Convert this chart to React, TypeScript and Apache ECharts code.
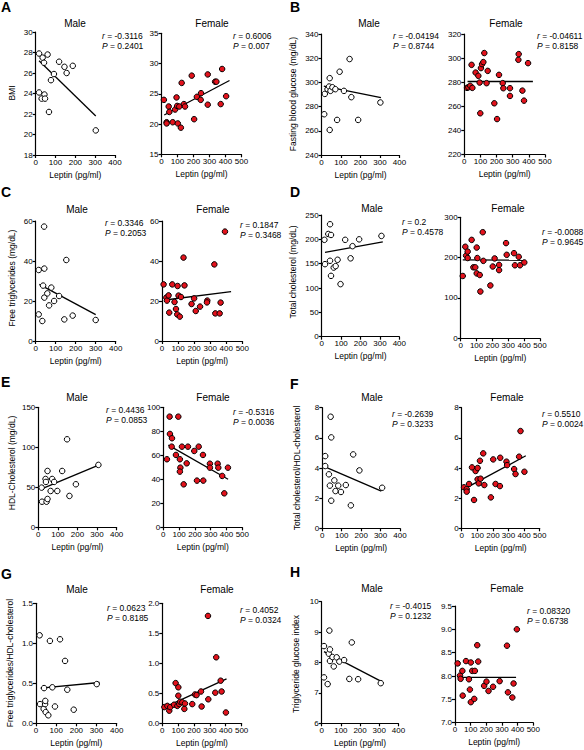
import React, { useEffect, useRef } from "react";
import * as echarts from "echarts";

const FONT = '"Liberation Sans", Arial, Helvetica, sans-serif';
const RED = "#e3121c";
const X_NAME = "Leptin (pg/ml)";

// ---------- data: [leptin, value] ----------
const bmiMale = [[17,27.9],[60,27.8],[35,27.5],[42,27.0],[118,27.1],[145,26.6],[156,26.0],[187,26.7],[92,25.9],[77,25.3],[17,24.1],[44,23.9],[30,23.5],[47,23.5],[67,22.2],[303,20.4]];
const bmiMaleFit = [[17,27.2],[303,21.8]];
const bmiFemale = [[15,24.0],[32,20.3],[32,20.1],[45,22.9],[49,22.0],[70,20.3],[85,22.4],[94,24.4],[98,23.0],[102,20.1],[111,22.9],[121,19.4],[126,26.8],[140,23.3],[147,22.9],[189,28.0],[204,20.8],[221,24.5],[247,25.1],[245,24.0],[289,28.2],[289,23.2],[335,27.0],[343,27.0],[370,23.3],[379,29.1],[404,24.6]];
const bmiFemaleFit = [[17,21.5],[425,27.2]];

const glucoseMale = [[14,273.7],[17,290.5],[31,294.4],[39,296.6],[42,303.5],[46,293],[42,260.7],[56,296],[71,294.4],[80,269],[93,308.8],[115,293],[144,319.3],[153,287.8],[188,269],[302,283.4]];
const glucoseMaleFit = [[12,297],[305,287.4]];
const glucoseFemale = [[17,275.3],[25,275.8],[37,277],[45,294.4],[50,275.3],[70,288],[87,285.3],[95,279.7],[103,291.7],[99,254.2],[110,295],[118,296.7],[124,304.2],[138,279.2],[145,289.4],[186,262.5],[203,249.4],[215,286.1],[238,279.2],[242,275],[283,275],[283,268.6],[335,298.6],[337,303.3],[360,273],[370,264.7],[395,295.8]];
const glucoseFemaleFit = [[20,280.6],[425,280.6]];

const tgMale = [[15,35.5],[15,13.3],[33,10],[37,27.7],[42,57.2],[43,36.2],[43,21.7],[58,23.8],[67,17.8],[78,26.7],[92,20],[117,22.5],[143,10.8],[153,40.5],[185,12.7],[300,10.5]];
const tgMaleFit = [[18,28.3],[300,13.2]];
const tgFemale = [[10,28.3],[27,21.7],[31,20.2],[41,22.8],[45,14.2],[64,28.3],[78,19.5],[87,16],[95,13.3],[97,27.5],[103,22.7],[111,12.2],[118,22],[134,41.7],[140,27.8],[184,18.5],[200,21.3],[210,15],[237,17.2],[282,20.2],[280,19.3],[326,38.3],[332,13.8],[359,13.8],[365,19.2],[392,54.7]];
const tgFemaleFit = [[19,20.5],[430,24.7]];

const tcMale = [[14,199],[17,149],[34,211],[43,231],[43,156],[48,209],[48,125],[62,142],[72,145],[82,158],[97,108],[121,199],[149,161],[159,186],[193,200],[308,207]];
const tcMaleFit = [[17,173],[315,195]];
const tcFemale = [[13,154.5],[29,227],[34,205],[44,215],[44,199],[69,244],[80,176],[92,176],[101,225],[101,161],[105,199],[120,157],[124,116],[139,263],[143,192],[187,131],[202,178],[214,198],[242,182],[242,169],[286,236],[290,207],[336,211],[342,181],[366,202],[374,181],[401,188]];
const tcFemaleFit = [[13,194.5],[405,193.5]];

const hdlMale = [[17,49.6],[19,32],[37,60.4],[39,56.7],[42,32],[47,35.4],[47,70.4],[63,45.4],[71,60.4],[81,56.7],[97,45.4],[122,70.4],[147,110],[159,39.2],[192,53.8],[307,78]];
const hdlMaleFit = [[17,48],[302,77]];
const hdlFemale = [[23,56.7],[40,92.2],[42,77.8],[55,74.2],[53,67.2],[80,60.3],[95,92.2],[105,56.7],[108,49.7],[105,46.4],[118,67.2],[129,35.8],[148,53.3],[156,67.2],[196,63.6],[213,38.9],[224,67.2],[251,60.3],[253,38.9],[295,53],[295,49.7],[344,53],[348,49.7],[373,42.8],[386,28.3],[409,49.7]];
const hdlFemaleFit = [[32,68.5],[410,40]];

const tcHdlMale = [[15,4.79],[15,4.13],[34,3.58],[39,2.83],[43,7.4],[46,6.03],[46,1.83],[62,3.18],[68,2.47],[82,2.83],[96,2.41],[121,2.87],[147,1.52],[159,4.9],[191,3.84],[308,2.69]];
const tcHdlMaleFit = [[14,4.08],[304,2.47]];
const tcHdlFemale = [[15,2.72],[32,2.6],[32,2.43],[47,2.94],[66,4.04],[79,1.88],[89,3.8],[102,4],[102,3.25],[109,2.98],[117,4.48],[121,3.29],[138,4.97],[145,2.87],[187,2.05],[202,4.57],[217,2.94],[245,2.8],[247,4.68],[287,4.42],[291,4.19],[336,3.93],[345,3.6],[368,4.75],[377,6.45],[402,3.75]];
const tcHdlFemaleFit = [[11,2.58],[411,4.81]];

const tgHdlMale = [[18,1.10],[20,0.24],[40,0.44],[38,0.18],[45,0.24],[46,0.28],[48,0.14],[61,0.1],[69,1.03],[81,0.45],[94,0.21],[119,1.05],[144,0.78],[155,0.42],[187,0.17],[301,0.49]];
const tgHdlMaleFit = [[23,0.44],[315,0.51]];
const tgHdlFemale = [[13,0.27],[32,0.29],[44,0.21],[50,0.27],[74,0.31],[84,0.67],[95,0.29],[101,0.6],[101,0.46],[107,0.32],[113,0.36],[126,0.35],[139,0.24],[143,0.33],[189,0.32],[206,0.48],[216,0.47],[244,0.53],[248,0.28],[288,1.79],[290,0.4],[334,0.51],[340,1.1],[368,0.71],[374,0.53],[401,0.18]];
const tgHdlFemaleFit = [[10,0.26],[405,0.74]];

const tygMale = [[12,8.54],[12,7.51],[31,7.29],[37,8.29],[40,9.05],[43,8.43],[43,8.05],[56,8.18],[63,7.87],[78,8.17],[92,8.03],[117,8.08],[144,7.46],[157,8.66],[190,7.45],[308,7.32]];
const tygMaleFit = [[12,8.36],[313,7.37]];
const tygFemale = [[17,8.27],[32,8.01],[36,7.94],[47,8.11],[49,7.58],[70,8.32],[89,7.93],[95,7.71],[101,8.29],[101,7.44],[110,8.11],[123,7.51],[127,8.11],[142,8.66],[148,8.31],[186,7.79],[201,7.88],[214,7.68],[243,7.77],[285,7.89],[332,8.65],[338,7.65],[366,7.54],[374,7.84],[395,9.0]];
const tygFemaleFit = [[17,7.97],[390,7.97]];

// ---------- statistics text ----------
const statsR = ["-0.3116","0.6006","-0.04194","-0.04611","0.3346","0.1847","0.2","-0.0088","0.4436","-0.5316","-0.2639","0.5510","0.0623","0.4052","-0.4015","0.08320"];
const statsP = ["0.2401","0.007","0.8744","0.8158","0.2053","0.3468","0.4578","0.9645","0.0853","0.0036","0.3233","0.0024","0.8185","0.0324","0.1232","0.6738"];

// ---------- panel definitions (layout) ----------
type Side = { pts: number[][]; fit: number[][]; female: boolean; box: number[]; xMax: number; y: number[]; dec: number; title: number[]; stat: number[] };

const sides: Side[] = [
  { pts: bmiMale, fit: bmiMaleFit, female: false, box: [35.7, 32, 79.3, 123], xMax: 400, y: [18, 30, 2], dec: 0, title: [75, 23], stat: [102, 36] },
  { pts: bmiFemale, fit: bmiFemaleFit, female: true, box: [161.5, 33.3, 80, 121], xMax: 500, y: [15, 35, 5], dec: 0, title: [212, 23], stat: [233, 36] },
  { pts: glucoseMale, fit: glucoseMaleFit, female: false, box: [321.5, 34, 78, 121], xMax: 400, y: [240, 340, 20], dec: 0, title: [369, 23], stat: [393, 36] },
  { pts: glucoseFemale, fit: glucoseFemaleFit, female: true, box: [464.3, 34, 80.7, 120.5], xMax: 500, y: [220, 320, 20], dec: 0, title: [506, 23], stat: [537, 36] },
  { pts: tgMale, fit: tgMaleFit, female: false, box: [35.7, 221, 80, 120], xMax: 400, y: [0, 60, 20], dec: 0, title: [77, 209], stat: [105, 223] },
  { pts: tgFemale, fit: tgFemaleFit, female: true, box: [162, 221, 80.3, 120], xMax: 500, y: [0, 60, 20], dec: 0, title: [213, 209], stat: [240, 225] },
  { pts: tcMale, fit: tcMaleFit, female: false, box: [321.7, 215, 77.6, 121.7], xMax: 400, y: [0, 250, 50], dec: 0, title: [372, 208], stat: [402, 222] },
  { pts: tcFemale, fit: tcFemaleFit, female: true, box: [460.7, 217.3, 79.3, 121], xMax: 500, y: [0, 300, 100], dec: 0, title: [508, 208], stat: [542, 232] },
  { pts: hdlMale, fit: hdlMaleFit, female: false, box: [38.3, 407.3, 78.3, 120], xMax: 400, y: [0, 150, 50], dec: 0, title: [77, 397], stat: [106, 410] },
  { pts: hdlFemale, fit: hdlFemaleFit, female: true, box: [163.3, 407.3, 79, 120], xMax: 500, y: [0, 100, 20], dec: 0, title: [213, 397], stat: [233, 412] },
  { pts: tcHdlMale, fit: tcHdlMaleFit, female: false, box: [322.3, 407.7, 77.7, 120.6], xMax: 400, y: [0, 8, 2], dec: 0, title: [372, 397], stat: [392, 414] },
  { pts: tcHdlFemale, fit: tcHdlFemaleFit, female: true, box: [461.7, 407.7, 78, 120.6], xMax: 500, y: [0, 8, 2], dec: 0, title: [507, 397], stat: [542, 414] },
  { pts: tgHdlMale, fit: tgHdlMaleFit, female: false, box: [36, 603.3, 80.7, 120], xMax: 400, y: [0, 1.5, 0.5], dec: 1, title: [77, 589], stat: [107, 608] },
  { pts: tgHdlFemale, fit: tgHdlFemaleFit, female: true, box: [162.3, 603.3, 79.3, 120], xMax: 500, y: [0, 2.0, 0.5], dec: 1, title: [217, 589], stat: [240, 610] },
  { pts: tygMale, fit: tygMaleFit, female: false, box: [321.7, 601.7, 76.7, 121.6], xMax: 400, y: [6, 10, 1], dec: 0, title: [372, 588], stat: [390, 606] },
  { pts: tygFemale, fit: tygFemaleFit, female: true, box: [455, 606, 78.3, 116.7], xMax: 500, y: [7.0, 9.5, 0.5], dec: 1, title: [507, 588], stat: [527, 611] },
];

const letters = [
  { t: "A", x: 1, y: 0 }, { t: "B", x: 290, y: 0 },
  { t: "C", x: 1, y: 185 }, { t: "D", x: 290, y: 185 },
  { t: "E", x: 1, y: 375 }, { t: "F", x: 290, y: 377 },
  { t: "G", x: 1, y: 567 }, { t: "H", x: 290, y: 565 },
];

const yNames = [
  { t: "BMI", x: 12, y: 93 },
  { t: "Fasting blood glucose (mg/dL)", x: 293, y: 94 },
  { t: "Free triglycerides (mg/dL)", x: 12, y: 278 },
  { t: "Total cholesterol (mg/dL)", x: 293, y: 272 },
  { t: "HDL-Cholesterol (mg/dL)", x: 12, y: 463 },
  { t: "Total cholesterol/HDL-cholesterol", x: 297, y: 468 },
  { t: "Free triglycerides/HDL-cholesterol", x: 10, y: 663 },
  { t: "Triglyceride glucose index", x: 296, y: 664 },
];

function buildOption() {
  const axisLine = { show: true, onZero: false, lineStyle: { color: "#000", width: 1.2 } };
  const axisTick = { show: true, length: 3, lineStyle: { color: "#000", width: 1.2 } };
  const grid = sides.map((s) => ({
    left: s.box[0], top: s.box[1], width: s.box[2], height: s.box[3],
    containLabel: false, outerBoundsMode: "none",
  }));
  const xAxis = sides.map((s, i) => ({
    gridIndex: i, type: "value", min: 0, max: s.xMax, interval: 100,
    axisLine, axisTick, splitLine: { show: false },
    axisLabel: { fontSize: 8, color: "#000", margin: 3, fontFamily: FONT },
    name: X_NAME, nameLocation: "middle", nameGap: 15,
    nameTextStyle: { fontSize: 8.5, color: "#000", fontFamily: FONT },
  }));
  const yAxis = sides.map((s, i) => ({
    gridIndex: i, type: "value", min: s.y[0], max: s.y[1], interval: s.y[2],
    axisLine, axisTick, splitLine: { show: false },
    axisLabel: {
      fontSize: 8, color: "#000", margin: 3, fontFamily: FONT,
      formatter: (v: number) => (s.dec ? v.toFixed(s.dec) : String(Math.round(v * 100) / 100)),
    },
  }));
  const series: any[] = [];
  sides.forEach((s, i) => {
    series.push({
      type: "line", xAxisIndex: i, yAxisIndex: i, data: s.fit, symbol: "none", showSymbol: false,
      lineStyle: { color: "#000", width: 1.3 }, z: 2, silent: true,
    });
    series.push({
      type: "scatter", xAxisIndex: i, yAxisIndex: i, data: s.pts, symbol: "circle", symbolSize: 5.5,
      itemStyle: { color: s.female ? RED : "#fff", borderColor: "#000", borderWidth: 1, opacity: 1 },
      z: 3, silent: true,
    });
  });
  const graphic: any[] = [];
  sides.forEach((s, i) => {
    graphic.push({
      type: "text", x: s.title[0], y: s.title[1], silent: true,
      style: { text: s.female ? "Female" : "Male", fontSize: 10, fontFamily: FONT, fill: "#000", align: "center", verticalAlign: "middle" },
    });
    graphic.push({
      type: "text", x: s.stat[0], y: s.stat[1] - 5, silent: true,
      style: {
        text: "{i|r} = " + statsR[i] + "\n{i|P} = " + statsP[i],
        fontSize: 8.5, fontFamily: FONT, fill: "#000", lineHeight: 10, align: "left", verticalAlign: "top",
        rich: { i: { fontStyle: "italic", fontSize: 8.5, fontFamily: FONT, lineHeight: 10 } },
      },
    });
  });
  letters.forEach((l) => {
    graphic.push({
      type: "text", x: l.x, y: l.y, silent: true,
      style: { text: l.t, fontSize: 14, fontWeight: "bold", fontFamily: FONT, fill: "#000", align: "left", verticalAlign: "top" },
    });
  });
  yNames.forEach((n) => {
    graphic.push({
      type: "text", x: n.x, y: n.y, rotation: Math.PI / 2, silent: true,
      style: { text: n.t, fontSize: 8.5, fontFamily: FONT, fill: "#000", align: "center", verticalAlign: "middle" },
    });
  });
  return {
    animation: false,
    backgroundColor: "#fff",
    textStyle: { fontFamily: FONT },
    grid, xAxis, yAxis, series, graphic,
  };
}

export default function App() {
  const ref = useRef<HTMLDivElement>(null);
  useEffect(() => {
    if (!ref.current) return;
    const chart = echarts.init(ref.current, undefined, { renderer: "svg" });
    chart.setOption(buildOption() as any);
    return () => chart.dispose();
  }, []);
  return (
    <div
      ref={ref}
      style={{ position: "absolute", left: 0, top: 0, width: 584, height: 750, background: "#fff" }}
    />
  );
}
